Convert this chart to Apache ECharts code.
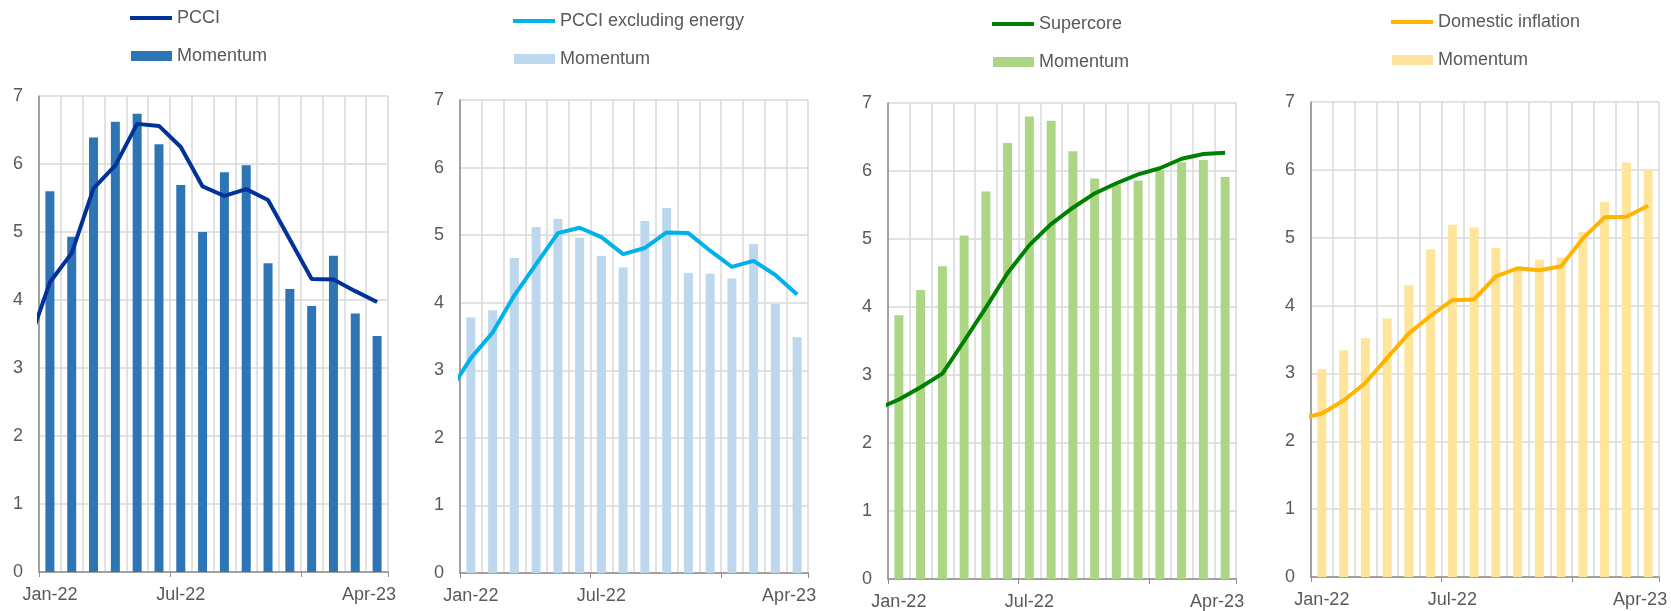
<!DOCTYPE html>
<html>
<head>
<meta charset="utf-8">
<style>
  html, body { margin: 0; padding: 0; background: #fff; }
  #main { width: 1671px; height: 611px; }
</style>
<script src="https://cdn.jsdelivr.net/npm/echarts@6/dist/echarts.min.js"></script>
</head>
<body>
<div id="main"></div>
<script>
// months shown on the bar axis
var months = ['Jan-22', 'Feb-22', 'Mar-22', 'Apr-22', 'May-22', 'Jun-22', 'Jul-22', 'Aug-22',
  'Sep-22', 'Oct-22', 'Nov-22', 'Dec-22', 'Jan-23', 'Feb-23', 'Mar-23', 'Apr-23'];

// line series start one month earlier (Dec-21), the chart clips them at the axis
var pcci = [3.34, 4.26, 4.69, 5.64, 5.98, 6.59, 6.56, 6.25, 5.67, 5.53, 5.63, 5.47, 4.89, 4.31, 4.30, 4.13, 3.97];
var pcciMomentum = [5.60, 4.93, 6.39, 6.62, 6.74, 6.29, 5.69, 5.00, 5.88, 5.98, 4.54, 4.16, 3.91, 4.65, 3.80, 3.47];

var pcciExEnergy = [2.68, 3.18, 3.56, 4.11, 4.57, 5.03, 5.11, 4.97, 4.72, 4.81, 5.04, 5.03, 4.77, 4.53, 4.62, 4.41, 4.12];
var exEnergyMomentum = [3.78, 3.89, 4.66, 5.12, 5.24, 4.96, 4.69, 4.52, 5.21, 5.40, 4.44, 4.43, 4.36, 4.87, 3.98, 3.49];

var supercore = [2.50, 2.64, 2.82, 3.02, 3.50, 3.99, 4.50, 4.91, 5.22, 5.46, 5.67, 5.82, 5.95, 6.04, 6.18, 6.25, 6.27];
var supercoreMomentum = [3.88, 4.25, 4.60, 5.05, 5.70, 6.41, 6.80, 6.74, 6.29, 5.89, 5.80, 5.86, 6.01, 6.13, 6.16, 5.91];

var domestic = [2.33, 2.41, 2.60, 2.86, 3.23, 3.59, 3.85, 4.08, 4.09, 4.43, 4.55, 4.52, 4.58, 4.99, 5.30, 5.31, 5.47];
var domesticMomentum = [3.06, 3.34, 3.52, 3.81, 4.30, 4.83, 5.19, 5.15, 4.85, 4.52, 4.68, 4.71, 5.08, 5.53, 6.11, 6.00];

var yTicks = [0, 1, 2, 3, 4, 5, 6, 7];
var shownLabels = ['Jan-22', 'Jul-22', 'Apr-23'];

var panels = [
  { name: 'PCCI', line: pcci, bars: pcciMomentum, lineColor: '#003299', barColor: '#2e75b6',
    grid: [39, 96, 349, 476], legendLeft: 130, legendY: [18, 56] },
  { name: 'PCCI excluding energy', line: pcciExEnergy, bars: exEnergyMomentum, lineColor: '#00b1ea', barColor: '#bdd7ee',
    grid: [460, 100, 348, 473], legendLeft: 513, legendY: [21, 59] },
  { name: 'Supercore', line: supercore, bars: supercoreMomentum, lineColor: '#008000', barColor: '#acd686',
    grid: [888, 103, 348, 476], legendLeft: 992, legendY: [24, 62] },
  { name: 'Domestic inflation', line: domestic, bars: domesticMomentum, lineColor: '#ffb400', barColor: '#fee59b',
    grid: [1311, 102, 348, 475], legendLeft: 1391, legendY: [22, 60] }
];

var font = 'Liberation Sans, Arial, sans-serif';
var textColor = '#595959';
var gridColor = '#d9d9d9';
var axisColor = '#8c8c8c';

var option = { animation: false, grid: [], xAxis: [], yAxis: [], legend: [], series: [] };

panels.forEach(function (p, k) {
  option.grid.push({ left: p.grid[0], top: p.grid[1], width: p.grid[2], height: p.grid[3] });

  // category axis for the bars
  option.xAxis.push({
    type: 'category', gridIndex: k, data: months, boundaryGap: true,
    axisLine: { onZero: false, lineStyle: { color: axisColor, width: 1.5 } },
    axisTick: { show: true, length: 5, lineStyle: { color: axisColor },
      interval: function (i) { return i % 6 === 0; } },
    axisLabel: {
      interval: function (i, v) { return shownLabels.indexOf(v) >= 0; },
      margin: 14, fontFamily: font, fontSize: 18, color: textColor,
      formatter: function (v) { return v === 'Apr-23' ? '{last|' + v + '}' : v; },
      rich: { last: { fontFamily: font, fontSize: 18, color: textColor, padding: [0, 16, 0, 0] } }
    },
    splitLine: { show: true, interval: 0, lineStyle: { color: gridColor, width: 1.5 } }
  });
  // hidden month-index axis for the line (Dec-21 = -1)
  option.xAxis.push({
    type: 'value', gridIndex: k, min: -0.5, max: 15.5, show: false
  });

  option.yAxis.push({
    type: 'value', gridIndex: k, min: yTicks[0], max: yTicks[yTicks.length - 1], interval: 1,
    axisLine: { show: true, onZero: false, lineStyle: { color: axisColor, width: 1.5 } },
    axisTick: { show: false },
    axisLabel: { margin: 16, fontFamily: font, fontSize: 18, color: textColor },
    splitLine: { show: true, lineStyle: { color: gridColor, width: 1.5 } }
  });

  var barName = 'Momentum#' + k;
  option.series.push({
    name: barName, type: 'bar', xAxisIndex: 2 * k, yAxisIndex: k,
    data: p.bars, barWidth: 9, itemStyle: { color: p.barColor }
  });
  option.series.push({
    name: p.name, type: 'line', xAxisIndex: 2 * k + 1, yAxisIndex: k,
    data: p.line.map(function (v, i) { return [i - 1, v]; }),
    symbol: 'none', clip: true, z: 3,
    lineStyle: { color: p.lineColor, width: 4 }, itemStyle: { color: p.lineColor }
  });

  var legendText = { fontFamily: font, fontSize: 18, color: textColor, lineHeight: 20 };
  option.legend.push({
    data: [{ name: p.name, icon: 'rect' }], left: p.legendLeft, top: p.legendY[0] - 10, padding: 0,
    itemWidth: 42, itemHeight: 4, selectedMode: false, textStyle: legendText
  });
  option.legend.push({
    data: [{ name: barName, icon: 'rect' }], left: p.legendLeft + 1, top: p.legendY[1] - 10, padding: 0,
    itemWidth: 41, itemHeight: 10, selectedMode: false, textStyle: legendText,
    formatter: function (n) { return n.split('#')[0]; }
  });
});

var myChart = echarts.init(document.getElementById('main'));
myChart.setOption(option);
</script>
</body>
</html>
